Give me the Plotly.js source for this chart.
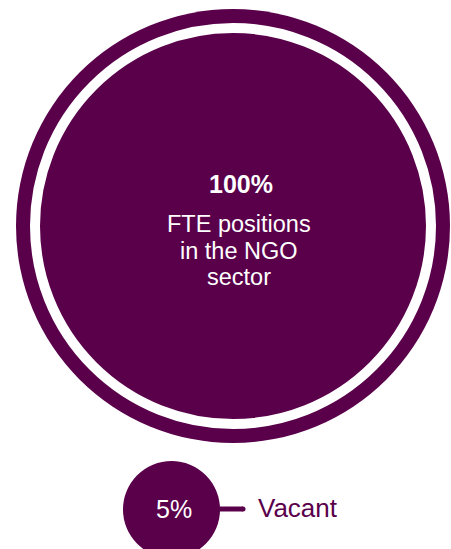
<!DOCTYPE html>
<html>
<head>
<meta charset="utf-8">
<script src="https://cdn.plot.ly/plotly-3.0.1.min.js"></script>
<style>html,body{margin:0;padding:0;background:#fff;}#chart{width:451px;height:549px;}</style>
</head>
<body>
<div id="chart"></div>
<script>
// Data
const categories = ['FTE positions in the NGO sector', 'Vacant'];
const values = [100, 5];
const mainLabelLines = ['FTE positions', 'in the NGO', 'sector'];

// Layout / styles
const PURPLE = '#5a004b';
const FONT = 'Liberation Sans, Arial, Helvetica, sans-serif';
const FULL_D = 434;           // outer diameter for 100%
const bigC = {x: 233, y: 226};
const smallC = {x: 171.5, y: 509.5};

const smallD = FULL_D * Math.sqrt(values[1] / values[0]);

const traces = [
  { // outer big circle (100%)
    x: [bigC.x], y: [bigC.y], mode: 'markers', type: 'scatter', hoverinfo: 'skip',
    marker: {size: FULL_D * Math.sqrt(values[0] / 100), color: PURPLE, line: {width: 0}}
  },
  { // white gap ring
    x: [bigC.x], y: [bigC.y], mode: 'markers', type: 'scatter', hoverinfo: 'skip',
    marker: {size: 396, color: PURPLE, line: {width: 10, color: '#ffffff'}}
  },
  { // connector line
    x: [smallC.x + smallD / 2 - 4, 243], y: [509, 509], mode: 'lines', type: 'scatter', hoverinfo: 'skip',
    line: {color: PURPLE, width: 5}
  },
  { // round cap
    x: [243], y: [509], mode: 'markers', type: 'scatter', hoverinfo: 'skip',
    marker: {size: 5, color: PURPLE, line: {width: 0}}
  },
  { // small circle (5%)
    x: [smallC.x], y: [smallC.y], mode: 'markers', type: 'scatter', hoverinfo: 'skip',
    marker: {size: smallD, color: PURPLE, line: {width: 0}}
  }
];

const annotations = [
  {x: 241, y: 183.5, text: '<b>' + values[0] + '%</b>', font: {size: 25, color: '#ffffff', family: FONT}},
  {x: 239, y: 224, text: mainLabelLines[0], font: {size: 23.5, color: '#ffffff', family: FONT}},
  {x: 239, y: 250.5, text: mainLabelLines[1], font: {size: 23.5, color: '#ffffff', family: FONT}},
  {x: 239, y: 277, text: mainLabelLines[2], font: {size: 23.5, color: '#ffffff', family: FONT}},
  {x: 174, y: 508.5, text: values[1] + '%', font: {size: 25, color: '#ffffff', family: FONT}},
  {x: 257, y: 508, text: categories[1], xanchor: 'left', font: {size: 26, color: PURPLE, family: FONT}}
].map(a => Object.assign({xref: 'x', yref: 'y', showarrow: false, xanchor: 'center', yanchor: 'middle', borderpad: 0}, a));

const layout = {
  width: 451, height: 549,
  margin: {l: 0, r: 0, t: 0, b: 0, pad: 0},
  paper_bgcolor: '#ffffff', plot_bgcolor: '#ffffff',
  showlegend: false,
  xaxis: {range: [0, 451], visible: false, fixedrange: true},
  yaxis: {range: [549, 0], visible: false, fixedrange: true},
  annotations: annotations
};

Plotly.newPlot('chart', traces, layout, {staticPlot: true, displayModeBar: false});
</script>
</body>
</html>
